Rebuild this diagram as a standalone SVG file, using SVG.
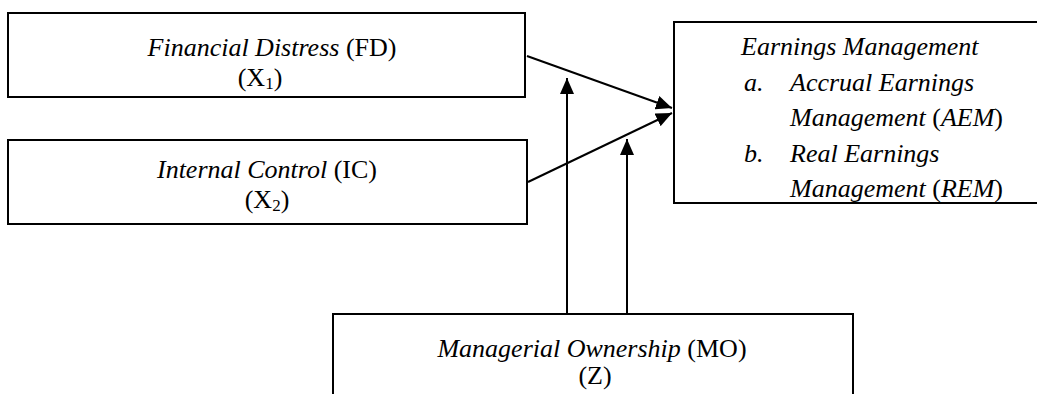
<svg xmlns="http://www.w3.org/2000/svg" width="1037" height="394" viewBox="0 0 1037 394">
<defs>
<style>
.box{fill:#fff;stroke:#000;stroke-width:2}
.t{font-family:"Liberation Serif","Times New Roman",serif;font-size:26px;fill:#000}
.i{font-style:italic}
.s{font-size:17px}
.c{fill:none;stroke:#000;stroke-width:2}
</style>
<marker id="ah" markerUnits="userSpaceOnUse" markerWidth="16" markerHeight="14" refX="16" refY="7" orient="auto"><path d="M0,0 L16,7 L0,14 Z" fill="#000"/></marker>
<clipPath id="emclip"><rect x="675" y="23" width="400" height="179"/></clipPath>
</defs>
<rect width="1037" height="394" fill="#fff"/>
<g id="fd">
<rect class="box" x="8" y="13" width="517" height="84"/>
<text class="t" x="272" y="56" text-anchor="middle"><tspan class="i">Financial Distress</tspan> (FD)</text>
<text class="t" x="260" y="86" text-anchor="middle">(X<tspan class="s" dy="3">1</tspan><tspan dy="-3">)</tspan></text>
</g>
<g id="ic">
<rect class="box" x="8" y="140" width="519" height="84"/>
<text class="t" x="267" y="178" text-anchor="middle"><tspan class="i">Internal Control</tspan> (IC)</text>
<text class="t" x="267" y="208" text-anchor="middle">(X<tspan class="s" dy="3">2</tspan><tspan dy="-3">)</tspan></text>
</g>
<g id="em">
<rect class="box" x="674" y="22" width="400" height="181"/>
<g clip-path="url(#emclip)">
<text class="t i" x="741" y="55">Earnings Management</text>
<text class="t i" x="744" y="90.5">a.</text>
<text class="t i" x="790" y="90.5">Accrual Earnings</text>
<text class="t" x="790" y="126"><tspan class="i">Management</tspan> (<tspan class="i">AEM</tspan>)</text>
<text class="t i" x="744" y="161.5">b.</text>
<text class="t i" x="790" y="161.5">Real Earnings</text>
<text class="t" x="790" y="197"><tspan class="i">Management</tspan> (<tspan class="i">REM</tspan>)</text>
</g>
</g>
<g id="mo">
<rect class="box" x="333" y="314" width="520" height="100"/>
<text class="t" x="592" y="357" text-anchor="middle"><tspan class="i">Managerial Ownership</tspan> (MO)</text>
<text class="t" x="595" y="384" text-anchor="middle">(Z)</text>
</g>
<g id="connectors">
<line class="c" x1="527" y1="56" x2="672" y2="108" marker-end="url(#ah)"/>
<line class="c" x1="528" y1="182" x2="672" y2="113" marker-end="url(#ah)"/>
<line class="c" x1="567" y1="314" x2="567" y2="78" marker-end="url(#ah)"/>
<line class="c" x1="627" y1="314" x2="627" y2="139" marker-end="url(#ah)"/>
</g>
</svg>
